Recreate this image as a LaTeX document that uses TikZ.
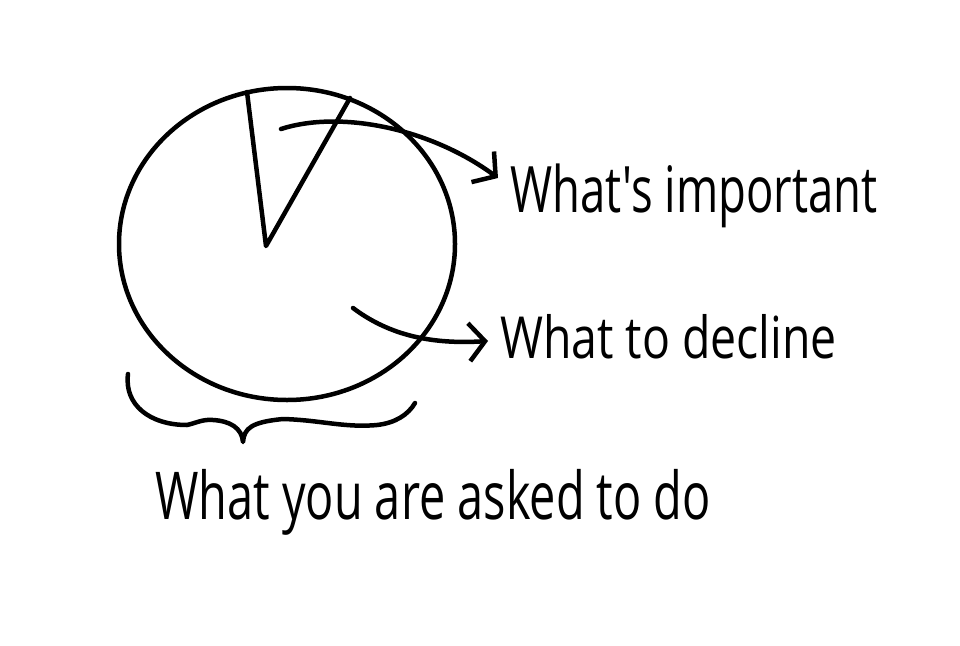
\documentclass[tikz,border=0pt]{standalone}
\usepackage{fontspec}
\newfontfamily\handfont{Open Sans}[FakeStretch=0.71]
\newfontfamily\handwide{Open Sans}[FakeStretch=0.80]
\usetikzlibrary{arrows.meta, positioning, shapes.geometric}
\tikzset{el/.style={line cap=round, line join=round}}

\begin{document}
\begin{tikzpicture}[el, x=1pt, y=-1pt,
     pen/.style={draw=black, line width=4.5pt},
     ar/.style={pen, -{Straight Barb[length=16pt, width=38pt]}},
     hand/.style={inner sep=0pt, anchor=base west, font=\handfont\fontsize{64}{66}\selectfont}]
  \useasboundingbox[fill=white] (0,0) rectangle (960,645);
  % the whole pie and its thin slice
  \node[pen, ellipse, minimum width=336pt, minimum height=312pt, inner sep=0pt] (pie) at (287,244) {};
  \coordinate (mid) at (266,246);
  \draw[pen] (247,92) -- (mid) -- (350,98);
  % labels
  \node[hand] (imp) at (510,212) {What's important};
  \node[hand, font=\handwide\fontsize{58}{60}\selectfont] (dec) at (500,358) {What to decline};
  \node[hand, font=\handfont\fontsize{66}{68}\selectfont] (ask) at (155,519) {What you are asked to do};
  % arrows
  \coordinate (s1) at (281,129);
  \coordinate (s2) at (353,308);
  \coordinate (t1) at ([xshift=-12pt, yshift=34pt]imp.base west);
  \coordinate (t2) at ([xshift=-12pt, yshift=17pt]dec.base west);
  \draw[ar] (s1) .. controls (340,110) and (430,128) .. (t1);
  \draw[ar] (s2) .. controls (385,332) and (425,345) .. (t2);
  % brace under the pie
  \draw[pen] (128,374) .. controls (124,405) and (150,425) .. (187,425)
     .. controls (196,423) and (203,419) .. (213,420)
     .. controls (230,421) and (242,428) .. (243,442)
     .. controls (244,428) and (252,422) .. (283,419)
     .. controls (320,420) and (345,428) .. (377,425)
     .. controls (395,423) and (408,415) .. (415,403);
\end{tikzpicture}
\end{document}
